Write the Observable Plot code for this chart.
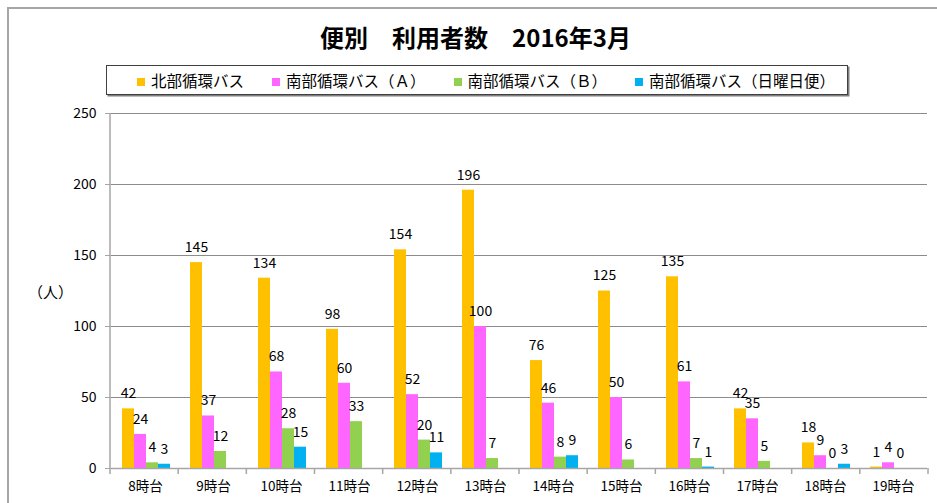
<!DOCTYPE html>
<html><head><meta charset="utf-8">
<script src="https://cdn.jsdelivr.net/npm/d3@7"></script>
<script src="https://cdn.jsdelivr.net/npm/@observablehq/plot@0.6"></script>
<style>
html,body{margin:0;padding:0;background:#fff;}
#wrap{position:relative;width:937px;height:503px;overflow:hidden;font-family:"Noto Sans CJK JP","Noto Sans",sans-serif;color:#000;}
#frame{position:absolute;left:7px;top:7px;width:1000px;height:1000px;border-top:2px solid #a6a6a6;border-left:2px solid #a6a6a6;}
#title{position:absolute;left:7px;width:937px;top:22px;text-align:center;font-size:24px;font-weight:bold;line-height:30px;}
#legend{position:absolute;left:106px;top:65px;width:740px;height:28px;border:1px solid #404040;box-shadow:1.5px 1.5px 0 #7f7f7f;display:flex;align-items:center;justify-content:flex-start;padding-left:30px;box-sizing:border-box;width:742px;height:30px;gap:28px;font-size:15.5px;line-height:28px;}
.sw{display:inline-block;width:8px;height:8px;margin-right:6px;vertical-align:middle;position:relative;top:-1px;}
#ylab{position:absolute;left:28px;top:281px;font-size:15px;line-height:22px;}
#chart{position:absolute;left:0;top:100px;}
</style></head>
<body>
<div id="wrap">
  <div id="frame"></div>
  <div id="title"></div>
  <div id="legend"></div>
  <div id="ylab">（人）</div>
  <div id="chart"></div>
</div>
<script>
const titleText = "便別　利用者数　2016年3月";
const hours = ["8時台","9時台","10時台","11時台","12時台","13時台","14時台","15時台","16時台","17時台","18時台","19時台"];
const series = ["北部循環バス","南部循環バス（Ａ）","南部循環バス（Ｂ）","南部循環バス（日曜日便）"];
const colors = ["#FFC000","#FF66FF","#92D050","#00B0F0"];
const north    = [42,145,134,98,154,196,76,125,135,42,18,1];
const southA   = [24,37,68,60,52,100,46,50,61,35,9,4];
const southB   = [4,12,28,33,20,7,8,6,7,5,0,0];
const southSun = [3,null,15,null,11,null,9,null,1,null,3,null];
const yTicks = [0,50,100,150,200,250];

document.getElementById("title").textContent = titleText;
const leg = document.getElementById("legend");
series.forEach((s,i)=>{
  const item = document.createElement("span");
  const sw = document.createElement("span");
  sw.className = "sw"; sw.style.background = colors[i];
  item.appendChild(sw);
  item.appendChild(document.createTextNode(s));
  leg.appendChild(item);
});

const seriesValues = [north, southA, southB, southSun];
const rows = [];
hours.forEach((h,i)=>{
  series.forEach((s,j)=>{
    rows.push({hour:h, series:s, value:seriesValues[j][i]});
  });
});
const valid = rows.filter(d=>d.value!=null);

const W=937,H=403,mL=110,mR=9,mT=13,mB=35;
const font = '"Noto Sans CJK JP","Noto Sans",sans-serif';
const axisColor = "#a6a6a6";

const chart = Plot.plot({
  width:W,height:H,marginLeft:mL,marginRight:mR,marginTop:mT,marginBottom:mB,
  style:{fontFamily:font,fontSize:"14px",color:"#000",background:"transparent",overflow:"visible"},
  fx:{domain:hours,padding:0,label:null,axis:null},
  x:{domain:series,paddingInner:0,paddingOuter:0.73,align:0.55,axis:null},
  y:{domain:[0,250],label:null,axis:null},
  color:{domain:series,range:colors},
  marks:[
    Plot.gridY(yTicks,{stroke:"#8c8c8c",strokeOpacity:1}),
    Plot.barY(valid,{fx:"hour",x:"series",y:"value",fill:"series"}),
    Plot.text(valid,{fx:"hour",x:"series",y:"value",text:d=>String(d.value),dy:-15,fontSize:14,fill:"#000"}),
    Plot.ruleY([0],{stroke:axisColor,strokeWidth:1.5}),
    Plot.axisY(yTicks,{anchor:"left",tickSize:6,tickPadding:9,stroke:axisColor,fill:"#000",fontSize:14,label:null}),
    Plot.axisFx({anchor:"bottom",tickSize:0,tickPadding:13,fontSize:13.5,fill:"#000",label:null})
  ]
});
document.getElementById("chart").appendChild(chart);

// axis lines and category boundary ticks, positioned from the chart's own scales
const fxS = chart.scale("fx"), yS = chart.scale("y");
const yBottom = Math.max(...yS.range), yTop = Math.min(...yS.range);
const xLeft = Math.min(...fxS.range), xRight = Math.max(...fxS.range);
const svg = d3.select(chart);
const g = svg.append("g").attr("stroke", axisColor).attr("stroke-width", 1.5);
g.append("line").attr("x1", xLeft).attr("x2", xLeft).attr("y1", yTop).attr("y2", yBottom);
const stepPx = (xRight - xLeft) / hours.length;
d3.range(hours.length + 1).forEach(i => {
  const x = xLeft + i * stepPx;
  g.append("line").attr("x1", x).attr("x2", x).attr("y1", yBottom).attr("y2", yBottom + 6);
});
</script>
</body></html>
